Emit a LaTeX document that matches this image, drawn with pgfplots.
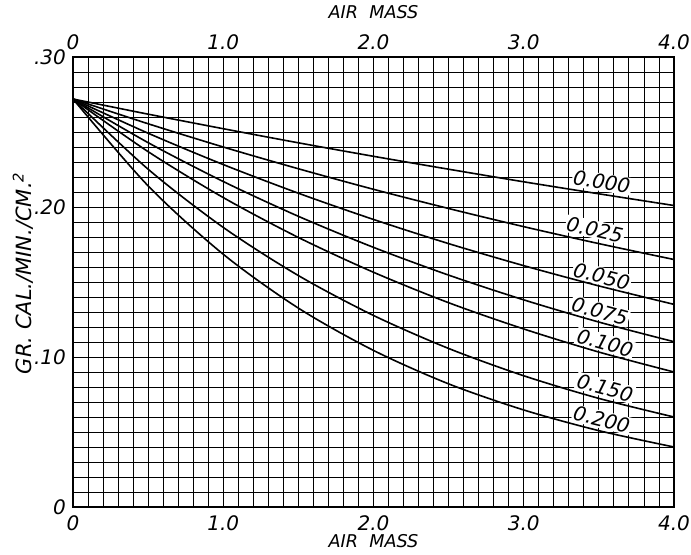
\documentclass[border=0pt]{standalone}
\usepackage{fontspec}
\setmainfont{DejaVu Sans}
\usepackage{pgfplots}
\pgfplotsset{compat=1.18}
\usetikzlibrary{calc}

\begin{document}
\begin{tikzpicture}
\begin{axis}[
    scale only axis,
    width=300.5pt, height=225pt,
    xmin=0, xmax=4, ymin=0, ymax=0.30,
    xtick={0,1,2,3,4},
    xticklabels={\textit{0},\textit{1.0},\textit{2.0},\textit{3.0},\textit{4.0}},
    ytick={0,0.1,0.2,0.3},
    yticklabels={\textit{0},\textit{.10},\textit{.20},\textit{.30}},
    minor x tick num=9, minor y tick num=9,
    grid=both,
    major grid style={black, line width=0.45pt},
    minor grid style={black, line width=0.45pt},
    major tick length=0pt, minor tick length=0pt,
    axis line style={line width=0.7pt},
    tick label style={font=\fontsize{10}{11}\selectfont\itshape},
    xticklabel style={yshift=-1pt},
    /pgf/number format/assume math mode=true,
    clip=false,
]
\coordinate (bl) at (rel axis cs:0,0);
\coordinate (tr) at (rel axis cs:1,1);

% top tick labels and titles
\foreach \xv/\lab in {0/0,1/1.0,2/2.0,3/3.0,4/4.0}{
  \edef\tmp{\noexpand\node[font=\noexpand\fontsize{10}{11}\noexpand\selectfont\noexpand\itshape, anchor=south, inner sep=1pt, yshift=2.5pt] at (axis cs:\xv,0.30) {\lab};}
  \tmp
}
\node[font=\fontsize{8.8}{9}\selectfont\itshape] at ($(rel axis cs:0.5,1)+(0,22.5pt)$) {AIR\ \ MASS};
\node[font=\fontsize{8.8}{9}\selectfont\itshape] at ($(rel axis cs:0.5,0)+(0,-17pt)$) {AIR\ \ MASS};
\node[font=\fontsize{10.5}{11}\selectfont\itshape, rotate=90] at ($(rel axis cs:0,0.52)+(-25pt,0)$) {GR. CAL./MIN./CM.\textsuperscript{2}};

% curve labels
\tikzset{cl/.style={font=\fontsize{10}{11}\selectfont\itshape, fill=white, inner sep=0.6pt}}
\node[cl, rotate=-9]    at (axis cs:3.52,0.2165) {0.000};
\node[cl, rotate=-12.4] at (axis cs:3.474,0.1850) {0.025};
\node[cl, rotate=-14.4] at (axis cs:3.519,0.1538) {0.050};
\node[cl, rotate=-15.5] at (axis cs:3.507,0.1305) {0.075};
\node[cl, rotate=-15.9] at (axis cs:3.541,0.1094) {0.100};
\node[cl, rotate=-15.3] at (axis cs:3.541,0.0794) {0.150};
\node[cl, rotate=-13.7] at (axis cs:3.519,0.0583) {0.200};

% curves
\addplot[black, line width=0.8pt, smooth, mark=none] coordinates {
  (0,0.272) (0.5,0.2619) (1,0.2522) (1.5,0.2428) (2,0.2338) (2.5,0.2252) (3,0.2168) (3.5,0.2088) (4,0.2010)};
\addplot[black, line width=0.8pt, smooth, mark=none] coordinates {
  (0,0.272) (0.5,0.2555) (1,0.2400) (1.5,0.2255) (2,0.2118) (2.5,0.1990) (3,0.1869) (3.5,0.1756) (4,0.1650)};
\addplot[black, line width=0.8pt, smooth, mark=none] coordinates {
  (0,0.272) (0.5,0.2492) (1,0.2283) (1.5,0.2092) (2,0.1917) (2.5,0.1756) (3,0.1609) (3.5,0.1474) (4,0.1351)};
\addplot[black, line width=0.8pt, smooth, mark=none] coordinates {
  (0,0.272) (0.5,0.2429) (1,0.2170) (1.5,0.1938) (2,0.1731) (2.5,0.1546) (3,0.1381) (3.5,0.1233) (4,0.1102)};
\addplot[black, line width=0.8pt, smooth, mark=none] coordinates {
  (0,0.272) (0.5,0.2369) (1,0.2063) (1.5,0.1797) (2,0.1565) (2.5,0.1362) (3,0.1187) (3.5,0.1033) (4,0.0900)};
\addplot[black, line width=0.8pt, smooth, mark=none] coordinates {
  (0,0.272) (0.5,0.2252) (1,0.1864) (1.5,0.1543) (2,0.1277) (2.5,0.1057) (3,0.0875) (3.5,0.0724) (4,0.0600)};
\addplot[black, line width=0.8pt, smooth, mark=none] coordinates {
  (0,0.272) (0.5,0.2141) (1,0.1685) (1.5,0.1326) (2,0.1044) (2.5,0.0821) (3,0.0647) (3.5,0.0509) (4,0.0400)};
\end{axis}
\pgfresetboundingbox
\path[use as bounding box] ($(bl)+(-36.5pt,-23.5pt)$) rectangle ($(tr)+(8.5pt,28.5pt)$);
\end{tikzpicture}
\end{document}
